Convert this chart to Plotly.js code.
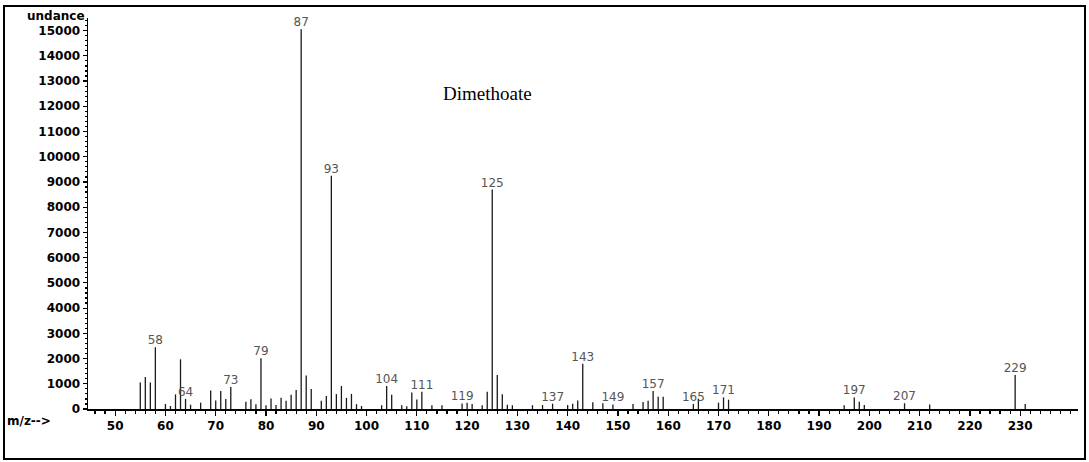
<!DOCTYPE html>
<html>
<head>
<meta charset="utf-8">
<script src="https://cdn.plot.ly/plotly-3.0.1.min.js"></script>
<style>
  html, body { margin: 0; padding: 0; background: #ffffff; }
  #wrap { position: relative; width: 1089px; height: 462px; }
  #chart { position: absolute; left: 0; top: 0; width: 1089px; height: 462px; }
  #frame { position: absolute; left: 3px; top: 5px; width: 1083px; height: 455px;
           border: 2px solid #000; box-sizing: border-box; pointer-events: none; }
</style>
</head>
<body>
<div id="wrap"><div id="chart"></div><div id="frame"></div></div>
<script>
// m/z values of the spectrum peaks
const mz = [55, 56, 57, 58, 60, 61, 62, 63, 64, 65, 67, 69, 70, 71, 72, 73, 76, 77, 78, 79,
            80, 81, 82, 83, 84, 85, 86, 87, 88, 89, 91, 92, 93, 94, 95, 96, 97, 98, 99,
            103, 104, 105, 107, 108, 109, 110, 111, 113, 115, 119, 120, 121, 123, 124, 125,
            126, 127, 128, 129, 133, 135, 137, 140, 141, 142, 143, 145, 147, 149, 153, 155,
            156, 157, 158, 159, 165, 166, 170, 171, 172, 195, 197, 198, 199, 207, 212, 229, 231];
// abundance of each peak
const abundance = [1050, 1270, 1050, 2450, 200, 120, 580, 1970, 400, 170, 250, 730, 340, 710, 400, 870, 290, 390, 190, 2010,
                   150, 420, 160, 450, 330, 560, 750, 15050, 1330, 790, 330, 520, 9250, 590, 910, 440, 600, 190, 120,
                   150, 910, 560, 150, 110, 650, 380, 680, 150, 150, 220, 250, 200, 150, 680, 8700,
                   1350, 580, 170, 150, 150, 160, 210, 160, 210, 340, 1790, 270, 230, 180, 200, 280,
                   330, 710, 490, 490, 200, 410, 250, 460, 370, 150, 460, 290, 160, 230, 180, 1350, 200];
// peaks carrying an m/z label
const labeledPeaks = [58, 64, 73, 79, 87, 93, 104, 111, 119, 125, 137, 143, 149, 157, 165, 171, 197, 207, 229];
// x axis tick labels
const xTickVals = [50, 60, 70, 80, 90, 100, 110, 120, 130, 140, 150, 160, 170, 180, 190, 200, 210, 220, 230];
const compoundName = "Dimethoate";
const yAxisLabel = "undance";
const xAxisLabel = "m/z-->";

// build stick segments from the data arrays
const sx = [], sy = [];
mz.forEach((m, i) => { sx.push(m, m, null); sy.push(0, abundance[i], null); });
const ly = labeledPeaks.map(m => abundance[mz.indexOf(m)]);

const sticks = {
  x: sx, y: sy, type: 'scatter', mode: 'lines',
  line: { color: '#1a1a1a', width: 1.3 }, hoverinfo: 'skip', showlegend: false
};
const labels = {
  x: labeledPeaks, y: ly, type: 'scatter', mode: 'text',
  text: labeledPeaks.map(String), textposition: 'top center',
  textfont: { family: 'DejaVu Sans', size: 12, color: '#555555' },
  cliponaxis: false, showlegend: false, hoverinfo: 'skip'
};

const tickFont = { family: 'DejaVu Sans', size: 12, color: '#000000', weight: 'bold' };

const layout = {
  width: 1089, height: 462,
  margin: { l: 88, r: 11, t: 18, b: 53, pad: 0 },
  paper_bgcolor: '#ffffff', plot_bgcolor: '#ffffff',
  showlegend: false,
  xaxis: {
    range: [44.6, 241.5], showgrid: false, zeroline: false,
    showline: true, linecolor: '#000', linewidth: 1.5,
    tickmode: 'array', tickvals: xTickVals, ticktext: xTickVals.map(String),
    ticks: 'outside', ticklen: 5, tickwidth: 1.2, tickcolor: '#000',
    tickfont: tickFont,
    minor: { tickmode: 'linear', tick0: 0, dtick: 2, ticks: 'outside', ticklen: 3, tickcolor: '#000', showgrid: false }
  },
  yaxis: {
    range: [0, 15500], showgrid: false, zeroline: false,
    showline: true, linecolor: '#000', linewidth: 1.5,
    tickmode: 'linear', tick0: 0, dtick: 1000, tickformat: 'd',
    ticks: 'outside', ticklen: 4, tickwidth: 1.2, tickcolor: '#000',
    tickfont: tickFont,
    minor: { tickmode: 'linear', tick0: 0, dtick: 200, ticks: 'outside', ticklen: 2, tickcolor: '#000', showgrid: false }
  },
  annotations: [
    { text: yAxisLabel, xref: 'paper', yref: 'paper', x: -0.001, y: 1.005,
      xanchor: 'right', yanchor: 'middle', showarrow: false,
      font: { family: 'DejaVu Sans', size: 12, color: '#000', weight: 'bold' } },
    { text: xAxisLabel, xref: 'paper', yref: 'paper', x: -0.0838, y: -0.0307,
      xanchor: 'left', yanchor: 'middle', showarrow: false,
      font: { family: 'DejaVu Sans', size: 12, color: '#000', weight: 'bold' } },
    { text: compoundName, xref: 'x', yref: 'y', x: 124.0, y: 12490,
      xanchor: 'center', yanchor: 'middle', showarrow: false,
      font: { family: 'Liberation Serif', size: 19, color: '#000' } }
  ]
};

Plotly.newPlot('chart', [sticks, labels], layout, { displayModeBar: false, staticPlot: true });
</script>
</body>
</html>
